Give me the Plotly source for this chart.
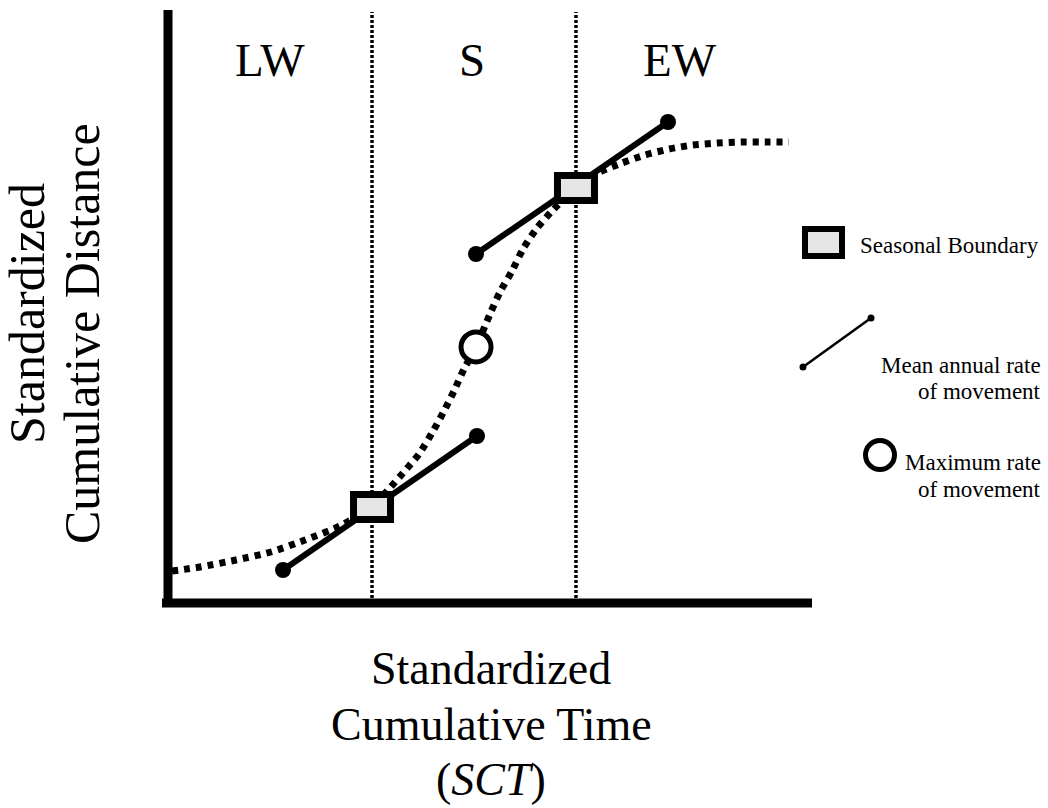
import plotly.graph_objects as go

# ---------------- data (standardized units, 0..1) ----------------
curve_sct = [0.0062, 0.0497, 0.1056, 0.1599, 0.2127, 0.2671, 0.3168, 0.3416, 0.3649,
             0.3898, 0.4099, 0.4270, 0.4441, 0.4596, 0.4783, 0.5000, 0.5155, 0.5342,
             0.5512, 0.5730, 0.5978, 0.6335, 0.6708, 0.7050, 0.7407, 0.7780, 0.8152,
             0.8525, 0.8898, 0.9270, 0.9643]
curve_scd = [0.0541, 0.0609, 0.0728, 0.0863, 0.1066, 0.1303, 0.1624, 0.1912, 0.2200,
             0.2521, 0.2876, 0.3215, 0.3587, 0.3959, 0.4332, 0.4890, 0.5262, 0.5618,
             0.5990, 0.6345, 0.6650, 0.7022, 0.7293, 0.7445, 0.7580, 0.7682, 0.7750,
             0.7783, 0.7800, 0.7800, 0.7800]

boundary_sct = [0.3168, 0.6335]
boundary_scd = [0.1624, 0.7022]

rate_lw_sct = [0.1786, 0.4798]
rate_lw_scd = [0.0558, 0.2826]
rate_ew_sct = [0.4783, 0.7764]
rate_ew_scd = [0.5905, 0.8139]

max_rate_sct = [0.4783]
max_rate_scd = [0.4332]

region_labels = ["LW", "S", "EW"]
x_title_lines = ["Standardized", "Cumulative Time", "(<i>SCT</i>)"]
y_title_lines = ["Standardized", "Cumulative Distance"]
legend_labels = ["Seasonal Boundary", "Mean annual rate", "of movement",
                 "Maximum rate", "of movement"]

# ---------------- layout helpers (pixel -> paper) ----------------
W, H = 1048, 808
PL, PR, PT, PB = 168, 812, 12, 603


def fx(px):
    return (px - PL) / (PR - PL)


def fy(py):
    return (PB - py) / (PB - PT)


FONT = "Liberation Serif"

fig = go.Figure()

# season boundaries (vertical dotted lines)
for bx in boundary_sct:
    fig.add_trace(go.Scatter(x=[bx, bx], y=[0, 1], mode="lines",
                             line=dict(color="black", width=3.5, dash="3px,2px"),
                             hoverinfo="skip", showlegend=False))

# cumulative distance curve
fig.add_trace(go.Scatter(x=curve_sct, y=curve_scd, mode="lines",
                         line=dict(color="black", width=7, dash="6px,6px",
                                   shape="spline", smoothing=0.6),
                         hoverinfo="skip", showlegend=False))

# mean annual rate segments
for xs, ys in [(rate_lw_sct, rate_lw_scd), (rate_ew_sct, rate_ew_scd)]:
    fig.add_trace(go.Scatter(x=xs, y=ys, mode="lines+markers",
                             line=dict(color="black", width=6),
                             marker=dict(color="black", size=16),
                             hoverinfo="skip", showlegend=False))

# maximum rate
fig.add_trace(go.Scatter(x=max_rate_sct, y=max_rate_scd, mode="markers",
                         marker=dict(symbol="circle", size=30, color="white",
                                     line=dict(color="black", width=5)),
                         hoverinfo="skip", showlegend=False))

shapes = []
# seasonal boundary rectangles anchored on data
for bx, by in zip(boundary_sct, boundary_scd):
    shapes.append(dict(type="rect", xref="x", yref="y",
                       xsizemode="pixel", ysizemode="pixel",
                       xanchor=bx, yanchor=by,
                       x0=-18.5, x1=18.5, y0=-12.5, y1=12.5,
                       line=dict(color="black", width=7),
                       fillcolor="#e6e6e6", layer="above"))

# axes
shapes.append(dict(type="line", xref="paper", yref="paper",
                   x0=fx(168), x1=fx(168), y0=fy(10), y1=fy(607),
                   line=dict(color="black", width=9), layer="above"))
shapes.append(dict(type="line", xref="paper", yref="paper",
                   x0=fx(162), x1=fx(812), y0=fy(603), y1=fy(603),
                   line=dict(color="black", width=9), layer="above"))

# legend graphics
shapes.append(dict(type="rect", xref="paper", yref="paper",
                   x0=fx(805), x1=fx(842), y0=fy(256), y1=fy(229),
                   line=dict(color="black", width=6), fillcolor="#e6e6e6"))
shapes.append(dict(type="line", xref="paper", yref="paper",
                   x0=fx(803), y0=fy(367), x1=fx(871), y1=fy(318),
                   line=dict(color="black", width=2.5)))
for cx, cy in [(803, 367), (871, 318)]:
    shapes.append(dict(type="circle", xref="paper", yref="paper",
                       x0=fx(cx - 3.5), x1=fx(cx + 3.5),
                       y0=fy(cy + 3.5), y1=fy(cy - 3.5),
                       line=dict(color="black", width=0), fillcolor="black"))
shapes.append(dict(type="circle", xref="paper", yref="paper",
                   x0=fx(880 - 14.5), x1=fx(880 + 14.5),
                   y0=fy(455 + 14.5), y1=fy(455 - 14.5),
                   line=dict(color="black", width=5), fillcolor="white"))

annotations = []


def ann(text, px, py, size, xanchor="center", angle=0):
    annotations.append(dict(text=text, xref="paper", yref="paper",
                            x=fx(px), y=fy(py), xanchor=xanchor, yanchor="middle",
                            showarrow=False, textangle=angle,
                            font=dict(family=FONT, size=size, color="black")))


# region labels
for lab, px in zip(region_labels, [270, 472, 680]):
    ann(lab, px, 60, 47)

# x title
for line, py in zip(x_title_lines, [668, 724, 779]):
    ann(line, 491, py, 46)

# y title
for line, px, py in zip(y_title_lines, [27, 82], [314, 334]):
    ann(line, px, py, 50, angle=-90)

# legend texts
ann(legend_labels[0], 858, 245, 23, xanchor="left")
ann(legend_labels[1], 1043, 365, 23, xanchor="right")
ann(legend_labels[2], 1043, 391, 23, xanchor="right")
ann(legend_labels[3], 1043, 462, 23, xanchor="right")
ann(legend_labels[4], 1043, 489, 23, xanchor="right")

fig.update_layout(
    width=W, height=H,
    margin=dict(l=PL, r=W - PR, t=PT, b=H - PB, pad=0),
    paper_bgcolor="white", plot_bgcolor="white",
    xaxis=dict(range=[0, 1], visible=False, fixedrange=True),
    yaxis=dict(range=[0, 1], visible=False, fixedrange=True),
    shapes=shapes, annotations=annotations, showlegend=False,
)

fig.write_html("out.html", config={"displayModeBar": False},
               post_script="document.body.style.margin='0';")
